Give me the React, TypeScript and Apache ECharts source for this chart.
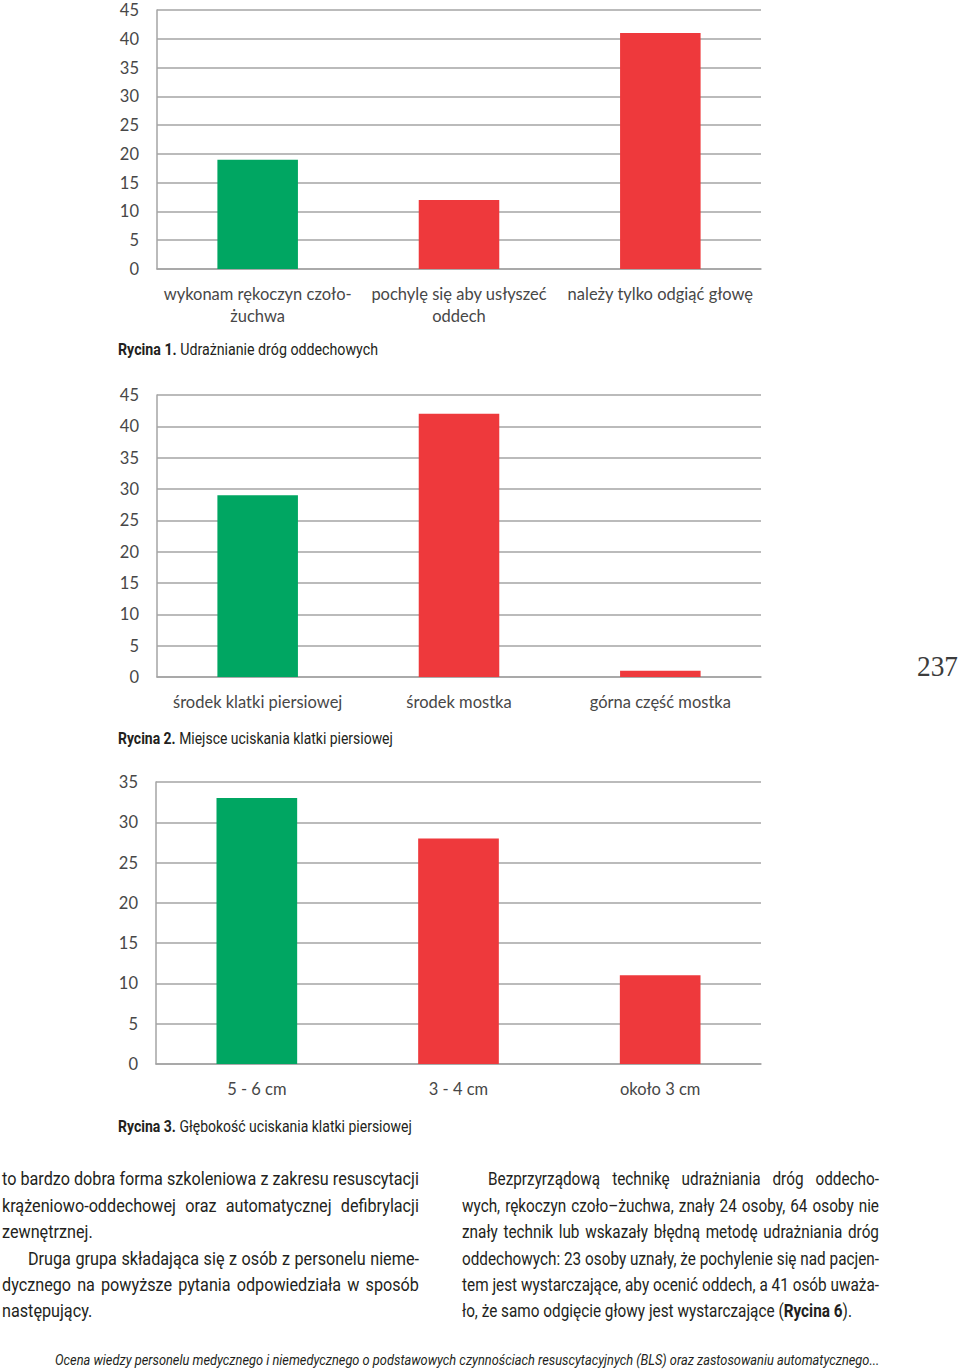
import React, { useEffect, useRef } from "react";
import * as echarts from "echarts";

// ---------- data ----------
const CAT1 = ["wykonam rękoczyn czoło-\nżuchwa", "pochylę się aby usłyszeć\noddech", "należy tylko odgiąć głowę"];
const VAL1 = [19, 12, 41];
const CAT2 = ["środek klatki piersiowej", "środek mostka", "górna część mostka"];
const VAL2 = [29, 42, 1];
const CAT3 = ["5 - 6 cm", "3 - 4 cm", "około 3 cm"];
const VAL3 = [33, 28, 11];
const Y_MAX = [45, 45, 35];
const Y_STEP = 5;

const CAPTIONS = [
  ["Rycina 1.", " Udrażnianie dróg oddechowych"],
  ["Rycina 2.", " Miejsce uciskania klatki piersiowej"],
  ["Rycina 3.", " Głębokość uciskania klatki piersiowej"],
];

const LEFT_LINES = [
  "to bardzo dobra forma szkoleniowa z zakresu resuscytacji",
  "krążeniowo-oddechowej oraz automatycznej defibrylacji",
  "zewnętrznej.",
  "Druga grupa składająca się z osób z personelu nieme-",
  "dycznego na powyższe pytania odpowiedziała w sposób",
  "następujący.",
];
const RIGHT_LINES = [
  "Bezprzyrządową technikę udrażniania dróg oddecho-",
  "wych, rękoczyn czoło–żuchwa, znały 24 osoby, 64 osoby nie",
  "znały technik lub wskazały błędną metodę udrażniania dróg",
  "oddechowych: 23 osoby uznały, że pochylenie się nad pacjen-",
  "tem jest wystarczające, aby ocenić oddech, a 41 osób uważa-",
  "ło, że samo odgięcie głowy jest wystarczające (**Rycina 6**).",
];
const FOOTER = "Ocena wiedzy personelu medycznego i niemedycznego o podstawowych czynnościach resuscytacyjnych (BLS) oraz zastosowaniu automatycznego...";
const PAGE_NO = "237";

// ---------- styles ----------
const GREEN = "#00a662";
const RED = "#ee393c";
const GRID_GRAY = "#a4a4a4";
const LABEL_GRAY = "#474747";
const TEXT = "#231f20";
const AXIS_FONT = "Lato";
const BODY_FONT = "Roboto";

export default function App() {
  const ref = useRef<HTMLDivElement>(null);

  useEffect(() => {
    if (!ref.current) return;
    const chart = echarts.init(ref.current, undefined, { renderer: "svg" });

    const ctx = document.createElement("canvas").getContext("2d")!;
    const measure = (t: string, bold: boolean, size: number, family: string, italic = false) => {
      ctx.font = `${italic ? "italic " : ""}${bold ? "bold " : ""}${size}px ${family}`;
      return ctx.measureText(t).width;
    };

    const graphics: any[] = [];
    const addText = (t: string, x: number, y: number, s: number, size: number, bold: boolean, family: string, fill: string, italic = false) => {
      graphics.push({
        type: "text",
        x,
        y,
        scaleX: s,
        silent: true,
        style: {
          text: t,
          fontSize: size,
          fontFamily: family,
          fontWeight: bold ? "bold" : "normal",
          fontStyle: italic ? "italic" : "normal",
          fill,
          align: "left",
          verticalAlign: "middle",
          textAlign: "left",
          textVerticalAlign: "middle",
        },
      });
    };

    // parse tokens with **bold** markers
    const parse = (text: string) => {
      let bold = false;
      return text.split(" ").map((tok) => {
        const parts = tok.split("**");
        const segs: { t: string; b: boolean }[] = [];
        parts.forEach((p, i) => {
          if (i > 0) bold = !bold;
          if (p.length) segs.push({ t: p, b: bold });
        });
        return segs;
      });
    };

    const BODY_SIZE = 18;
    const rawSpace = measure(" ", false, BODY_SIZE, BODY_FONT);
    const lineInfo = (text: string) => {
      const tokens = parse(text);
      const raw = tokens.map((segs) => segs.reduce((a, sg) => a + measure(sg.t, sg.b, BODY_SIZE, BODY_FONT), 0));
      const sumRaw = raw.reduce((a, b) => a + b, 0);
      return { tokens, raw, sumRaw };
    };

    const layoutColumn = (lines: string[], x0: number, width: number, indents: number[], just: boolean[]) => {
      // base scale: the tightest natural fit among justified lines (normal word spacing)
      let base = 1;
      lines.forEach((l, i) => {
        if (!just[i]) return;
        const { tokens, sumRaw } = lineInfo(l);
        const w = width - indents[i];
        const s = w / (sumRaw + (tokens.length - 1) * rawSpace);
        if (s < base) base = s;
      });
      lines.forEach((l, i) => {
        const { tokens, raw, sumRaw } = lineInfo(l);
        const n = tokens.length;
        const w = width - indents[i];
        const s = base;
        let gap = rawSpace * s;
        if (just[i] && n > 1) gap = (w - sumRaw * s) / (n - 1);
        let x = x0 + indents[i];
        const y = LINE_Y0 + i * LINE_STEP;
        tokens.forEach((segs, k) => {
          let xx = x;
          segs.forEach((sg) => {
            addText(sg.t, xx, y, s, BODY_SIZE, sg.b, BODY_FONT, TEXT);
            xx += measure(sg.t, sg.b, BODY_SIZE, BODY_FONT) * s;
          });
          x += raw[k] * s + gap;
        });
      });
    };

    const LINE_Y0 = 1179;
    const LINE_STEP = 26.4;
    layoutColumn(LEFT_LINES, 2, 417, [0, 0, 0, 26, 0, 0], [true, true, false, true, true, false]);
    layoutColumn(RIGHT_LINES, 462, 417, [26, 0, 0, 0, 0, 0], [true, true, true, true, true, false]);

    // captions
    const CAP_SIZE = 16;
    const capY = [350, 739, 1127];
    const capW = [260, 275, 294];
    CAPTIONS.forEach(([b, r], i) => {
      const wb = measure(b, true, CAP_SIZE, BODY_FONT);
      const wr = measure(r, false, CAP_SIZE, BODY_FONT);
      const s = capW[i] / (wb + wr);
      addText(b, 118, capY[i], s, CAP_SIZE, true, BODY_FONT, TEXT);
      addText(r, 118 + wb * s, capY[i], s, CAP_SIZE, false, BODY_FONT, TEXT);
    });

    // footer
    const FOOT_SIZE = 14;
    const fw = measure(FOOTER, false, FOOT_SIZE, BODY_FONT, true);
    addText(FOOTER, 55, 1360, 825 / fw, FOOT_SIZE, false, BODY_FONT, TEXT, true);

    // page number
    const pw = measure(PAGE_NO, false, 30, "Liberation Serif");
    addText(PAGE_NO, 917, 666, 41 / pw, 30, false, "Liberation Serif", "#3c3c3c");

    const grids = [
      { left: 157, top: 10, width: 604, height: 259 },
      { left: 157, top: 395, width: 604, height: 282 },
      { left: 156, top: 782, width: 605, height: 282 },
    ];
    const cats = [CAT1, CAT2, CAT3];
    const vals = [VAL1, VAL2, VAL3];

    const option: any = {
      animation: false,
      backgroundColor: "#ffffff",
      grid: grids.map((g) => ({ ...g, containLabel: false, outerBoundsMode: "none" })),
      xAxis: cats.map((c, i) => ({
        type: "category",
        gridIndex: i,
        data: c,
        axisTick: { show: false },
        axisLine: { show: true, lineStyle: { color: GRID_GRAY, width: 1.5 } },
        axisLabel: {
          interval: 0,
          margin: 14,
          fontSize: 16.5,
          lineHeight: 22,
          fontFamily: AXIS_FONT,
          color: LABEL_GRAY,
        },
      })),
      yAxis: Y_MAX.map((m, i) => ({
        type: "value",
        gridIndex: i,
        min: 0,
        max: m,
        interval: Y_STEP,
        axisTick: { show: false },
        axisLine: { show: true, lineStyle: { color: GRID_GRAY, width: 1.5 } },
        splitLine: { show: true, lineStyle: { color: GRID_GRAY, width: 1.5 } },
        axisLabel: {
          margin: 18,
          fontSize: 16.5,
          fontFamily: AXIS_FONT,
          color: LABEL_GRAY,
        },
      })),
      series: vals.map((v, i) => ({
        type: "bar",
        xAxisIndex: i,
        yAxisIndex: i,
        data: v,
        barWidth: "40%",
        itemStyle: {
          color: (p: any) => (p.dataIndex === 0 ? GREEN : RED),
        },
      })),
      graphic: graphics,
    };

    chart.setOption(option);
    return () => chart.dispose();
  }, []);

  return (
    <div
      ref={ref}
      style={{ position: "absolute", left: 0, top: 0, width: 960, height: 1372, background: "#fff" }}
    />
  );
}
